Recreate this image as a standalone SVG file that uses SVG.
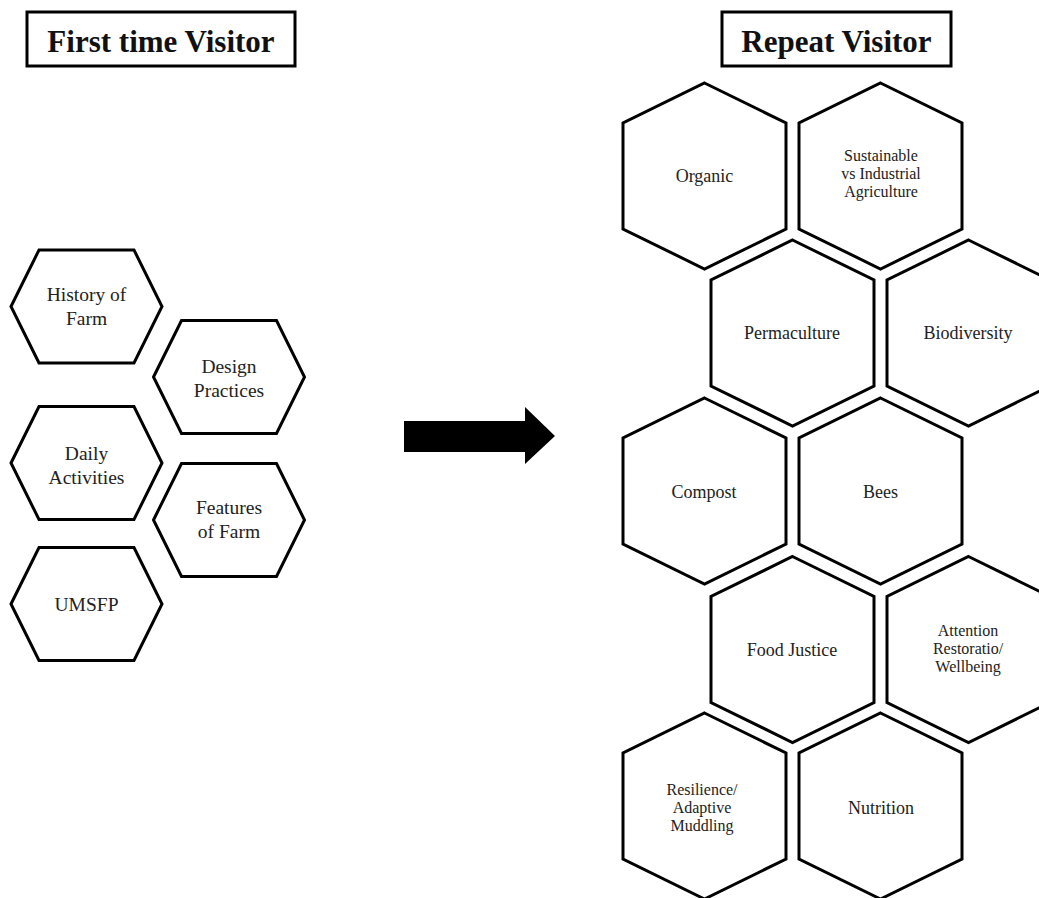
<svg xmlns="http://www.w3.org/2000/svg" xmlns:xlink="http://www.w3.org/1999/xlink" width="1039" height="898" viewBox="0 0 1039 898">
<style>
.hex{fill:#fff;stroke:#000;stroke-width:3;stroke-linejoin:miter}
.title{font-family:"Liberation Serif","Times New Roman",serif;font-weight:bold;font-size:31px;text-anchor:middle;fill:#111}
.box{fill:#fff;stroke:#000;stroke-width:3}
.lt{font-family:"Liberation Serif","Times New Roman",serif;font-size:19.5px;text-anchor:middle;fill:#222}
.rt{font-family:"Liberation Serif","Times New Roman",serif;font-size:18px;text-anchor:middle;fill:#222}
.rt3{font-family:"Liberation Serif","Times New Roman",serif;font-size:16px;text-anchor:middle;fill:#222}
</style>
<defs>
<polygon id="hexL" class="hex" points="-75.5,0 -47.5,-56.5 47.5,-56.5 75.5,0 47.5,56.5 -47.5,56.5"/>
<polygon id="hexR" class="hex" points="0,-93 81.5,-53 81.5,53 0,93 -81.5,53 -81.5,-53"/>
</defs>
<rect width="1039" height="898" fill="#fff"/>
<g id="title-first">
<rect class="box" x="27" y="12" width="268" height="54"/>
<text class="title" x="161" y="52">First time Visitor</text>
</g>
<g id="title-repeat">
<rect class="box" x="722" y="12" width="229" height="54"/>
<text class="title" x="836.5" y="52">Repeat Visitor</text>
</g>
<g id="n-history"><use xlink:href="#hexL" x="86.5" y="306.5"/><text class="lt" x="86.5" y="301">History of</text><text class="lt" x="86.5" y="325">Farm</text></g>
<g id="n-design"><use xlink:href="#hexL" x="229" y="377"/><text class="lt" x="229" y="373">Design</text><text class="lt" x="229" y="397">Practices</text></g>
<g id="n-daily"><use xlink:href="#hexL" x="86.5" y="463"/><text class="lt" x="86.5" y="460">Daily</text><text class="lt" x="86.5" y="484">Activities</text></g>
<g id="n-features"><use xlink:href="#hexL" x="229" y="520"/><text class="lt" x="229" y="514">Features</text><text class="lt" x="229" y="538">of Farm</text></g>
<g id="n-umsfp"><use xlink:href="#hexL" x="86.5" y="604"/><text class="lt" x="86.5" y="611">UMSFP</text></g>
<g id="connectors">
<polygon points="404,421 525,421 525,407 555,436 525,464 525,452 404,452" fill="#000"/>
</g>
<g id="n-organic"><use xlink:href="#hexR" x="704.5" y="176"/><text class="rt" x="704.5" y="182">Organic</text></g>
<g id="n-sustainable"><use xlink:href="#hexR" x="880.5" y="176"/><text class="rt3" x="881" y="161">Sustainable</text><text class="rt3" x="881" y="179">vs Industrial</text><text class="rt3" x="881" y="197">Agriculture</text></g>
<g id="n-permaculture"><use xlink:href="#hexR" x="792.5" y="333"/><text class="rt" x="792" y="339">Permaculture</text></g>
<g id="n-biodiversity"><use xlink:href="#hexR" x="968.5" y="333"/><text class="rt" x="968" y="339">Biodiversity</text></g>
<g id="n-compost"><use xlink:href="#hexR" x="704.5" y="491"/><text class="rt" x="704" y="498">Compost</text></g>
<g id="n-bees"><use xlink:href="#hexR" x="880.5" y="491"/><text class="rt" x="880.5" y="498">Bees</text></g>
<g id="n-foodjustice"><use xlink:href="#hexR" x="792.5" y="649.5"/><text class="rt" x="792" y="656">Food Justice</text></g>
<g id="n-attention"><use xlink:href="#hexR" x="968.5" y="649.5"/><text class="rt3" x="968" y="636">Attention</text><text class="rt3" x="968" y="654">Restoratio/</text><text class="rt3" x="968" y="672">Wellbeing</text></g>
<g id="n-resilience"><use xlink:href="#hexR" x="704.5" y="806"/><text class="rt3" x="702" y="795">Resilience/</text><text class="rt3" x="702" y="813">Adaptive</text><text class="rt3" x="702" y="831">Muddling</text></g>
<g id="n-nutrition"><use xlink:href="#hexR" x="880.5" y="806"/><text class="rt" x="881" y="814">Nutrition</text></g>
</svg>
